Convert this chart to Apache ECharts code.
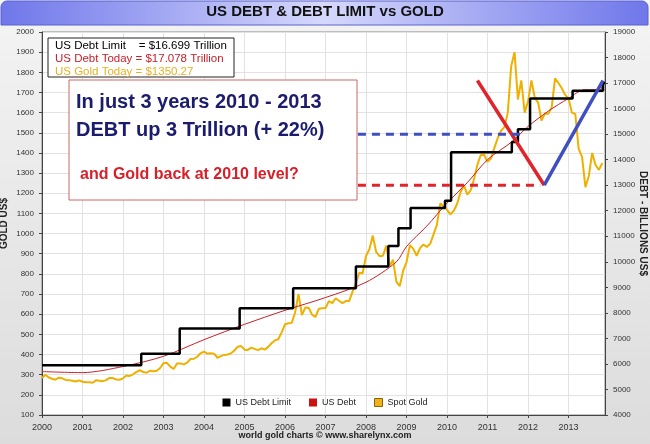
<!DOCTYPE html><html><head><meta charset="utf-8"><script src="https://cdn.jsdelivr.net/npm/echarts@6/dist/echarts.min.js"></script>
<style>html,body{margin:0;padding:0;background:#fff}#c{width:650px;height:444px}</style></head><body><div id="c"></div><script>
const goldStart = 2000;
const goldMonthly = [
284,300,286,280,275,285,282,274,273,270,266,272,
265,262,263,260,272,270,268,273,284,283,276,275,
282,296,294,302,314,322,313,310,319,317,319,333,
357,359,340,328,355,356,351,360,378,379,389,407,
414,405,406,404,384,392,398,400,406,420,439,442,
424,423,434,428,422,431,424,438,456,470,476,510,
550,555,557,610,700,596,633,632,598,586,627,629,
631,665,655,679,667,655,665,665,712,754,806,803,
889,922,990,909,888,890,940,839,870,760,740,816,
858,943,924,890,928,946,934,949,996,1043,1150,1134,
1118,1095,1113,1148,1205,1240,1193,1215,1271,1342,1390,1391,
1356,1372,1424,1473,1510,1528,1600,1830,1900,1665,1760,1600,
1656,1760,1673,1650,1560,1596,1594,1626,1770,1747,1721,1688,
1670,1600,1593,1420,1380,1230,1286,1400,1340,1316,1350];
const debtX = [2000,2001,2002,2003,2004,2005,2006,2007,2008,2008.75,2009,2009.5,2010,2010.5,2011,2011.6,2012,2012.5,2013,2013.4,2013.78,2013.85];
const debtY = [5700,5660,5900,6300,6950,7550,8100,8600,9200,10000,10600,11400,12300,13100,14000,14700,15300,15900,16400,16740,16740,17078];
const limitX = [2000,2002.45,2003.4,2004.88,2006.2,2007.75,2008.55,2008.8,2009.1,2009.95,2010.1,2011.6,2011.75,2012.05,2013.1,2013.8,2013.85];
const limitY = [5950,6400,7384,8184,8965,9815,10615,11315,12104,12394,14294,14694,15194,16394,16699,16699,17000];
const yearTicks = ['2000','2001','2002','2003','2004','2005','2006','2007','2008','2009','2010','2011','2012','2013'];

const gold = goldMonthly.map((v,i)=>[goldStart+i/12, v]);
const debt = debtX.map((x,i)=>[x,debtY[i]]);
const limit = [];
limitX.forEach((x,i)=>{ if(i>0) limit.push([x,limitY[i-1]]); limit.push([x,limitY[i]]); });
limit.push([2013.9,limitY[limitY.length-1]]);
const redV = [[2010.75,17100],[2012.4,13000]];
const blueV = [[2012.4,13000],[2013.85,17100]];
const blueDash = [[2007.8,15000],[2011.9,15000]];
const redDash = [[2007.8,13000],[2012.3,13000]];

const c = echarts.init(document.getElementById('c'));
const ff = 'Liberation Sans, Arial, sans-serif';
c.setOption({
 animation:false,
 backgroundColor:{type:'linear',x:0,y:0,x2:0,y2:1,colorStops:[{offset:0,color:'#f4f4f4'},{offset:1,color:'#dcdcdc'}]},
 textStyle:{fontFamily:ff},
 grid:{left:42,right:45,top:32,bottom:29,outerBoundsMode:'none',containLabel:false,backgroundColor:'#fff',show:true,borderColor:'#888',borderWidth:1},
 xAxis:{type:'value',min:2000,max:2013.9,interval:1,
   axisLabel:{fontSize:9,color:'#333',showMaxLabel:false,formatter:v=>yearTicks[Math.round(v-2000)]||''},
   axisLine:{lineStyle:{color:'#444'}},axisTick:{length:3},
   splitLine:{show:true,lineStyle:{color:'#e2e2e2'}}},
 yAxis:[
  {type:'value',min:100,max:2000,interval:100,name:'GOLD US$',nameLocation:'middle',nameGap:33,nameMoveOverlap:false,nameTextStyle:{fontSize:10,fontWeight:'bold',color:'#222'},
   axisLabel:{fontSize:8,color:'#333',formatter:v=>String(v)},axisLine:{show:true,lineStyle:{color:'#444'}},axisTick:{show:true,length:3},
   splitLine:{lineStyle:{color:'#e2e2e2'}}},
  {type:'value',min:4000,max:19000,interval:1000,name:'DEBT - BILLIONS US$',nameLocation:'middle',nameGap:33,nameMoveOverlap:false,nameRotate:270,nameTextStyle:{fontSize:10,fontWeight:'bold',color:'#222'},
   axisLabel:{fontSize:8,color:'#333',formatter:v=>String(v)},axisLine:{show:true,lineStyle:{color:'#444'}},axisTick:{show:true,length:3},splitLine:{show:false}}
 ],
 legend:{bottom:32,left:'center',itemWidth:8,itemHeight:8,itemGap:18,textStyle:{fontSize:9,color:'#222'},
   data:[{name:'US Debt Limit',icon:'rect',itemStyle:{color:'#000'}},{name:'US Debt',icon:'rect',itemStyle:{color:'#cc1111'}},{name:'Spot Gold',icon:'rect',itemStyle:{color:'#f0b020',borderColor:'#886600',borderWidth:1}}]},
 series:[
  {name:'Spot Gold',type:'line',data:gold,yAxisIndex:0,showSymbol:false,lineStyle:{color:'#f0b000',width:2},itemStyle:{color:'#f0b000'}},
  {name:'US Debt',type:'line',data:debt,yAxisIndex:1,showSymbol:false,smooth:0.3,lineStyle:{color:'#c8202a',width:1},itemStyle:{color:'#cc1111'}},
  {name:'US Debt Limit',type:'line',data:limit,yAxisIndex:1,showSymbol:false,lineStyle:{color:'#000',width:2.5},itemStyle:{color:'#000'}},
  {type:'line',data:redV,yAxisIndex:1,showSymbol:false,lineStyle:{color:'#e0242c',width:3.5}},
  {type:'line',data:blueV,yAxisIndex:1,showSymbol:false,lineStyle:{color:'#3f4fc0',width:3.5}},
  {type:'line',data:blueDash,yAxisIndex:1,showSymbol:false,lineStyle:{color:'#3f4fc0',width:3,type:[8,6]}},
  {type:'line',data:redDash,yAxisIndex:1,showSymbol:false,lineStyle:{color:'#e0242c',width:3,type:[8,6]}}
 ],
 graphic:[
  {type:'rect',z:100,shape:{x:1,y:1,width:647,height:24,r:[6,6,0,0]},style:{fill:{type:'linear',x:0,y:0,x2:1,y2:0,colorStops:[{offset:0,color:'#6f77ea'},{offset:0.5,color:'#d6d8fb'},{offset:1,color:'#6f77ea'}]},stroke:'#5a62d0'}},
  {type:'text',z:101,left:'center',top:4,style:{text:'US DEBT & DEBT LIMIT vs GOLD',font:'bold 15px '+ff,fill:'#111'}},
  {type:'rect',z:100,shape:{x:48,y:38,width:186,height:39},style:{fill:'#fff',stroke:'#222',lineWidth:1}},
  {type:'text',z:101,left:55,top:40,style:{text:'US Debt Limit    = $16.699 Trillion',font:'11.5px '+ff,fill:'#000'}},
  {type:'text',z:101,left:55,top:53,style:{text:'US Debt Today = $17.078 Trillion',font:'11.5px '+ff,fill:'#c8202a'}},
  {type:'text',z:101,left:55,top:66,style:{text:'US Gold Today = $1350.27',font:'11.5px '+ff,fill:'#e8b020'}},
  {type:'rect',z:100,shape:{x:69,y:80,width:288,height:120},style:{fill:'#fff',stroke:'#c66',lineWidth:1}},
  {type:'text',z:101,left:76,top:92,style:{text:'In just 3 years 2010 - 2013',font:'bold 20px '+ff,fill:'#1c1c6e'}},
  {type:'text',z:101,left:76,top:120,style:{text:'DEBT up 3 Trillion (+ 22%)',font:'bold 20px '+ff,fill:'#1c1c6e'}},
  {type:'text',z:101,left:80,top:167,style:{text:'and Gold back at 2010 level?',font:'bold 16px '+ff,fill:'#d8202a'}},
  {type:'text',z:101,left:'center',top:431,style:{text:'world gold charts © www.sharelynx.com',font:'bold 9px '+ff,fill:'#222'}}
 ]
});
</script></body></html>
